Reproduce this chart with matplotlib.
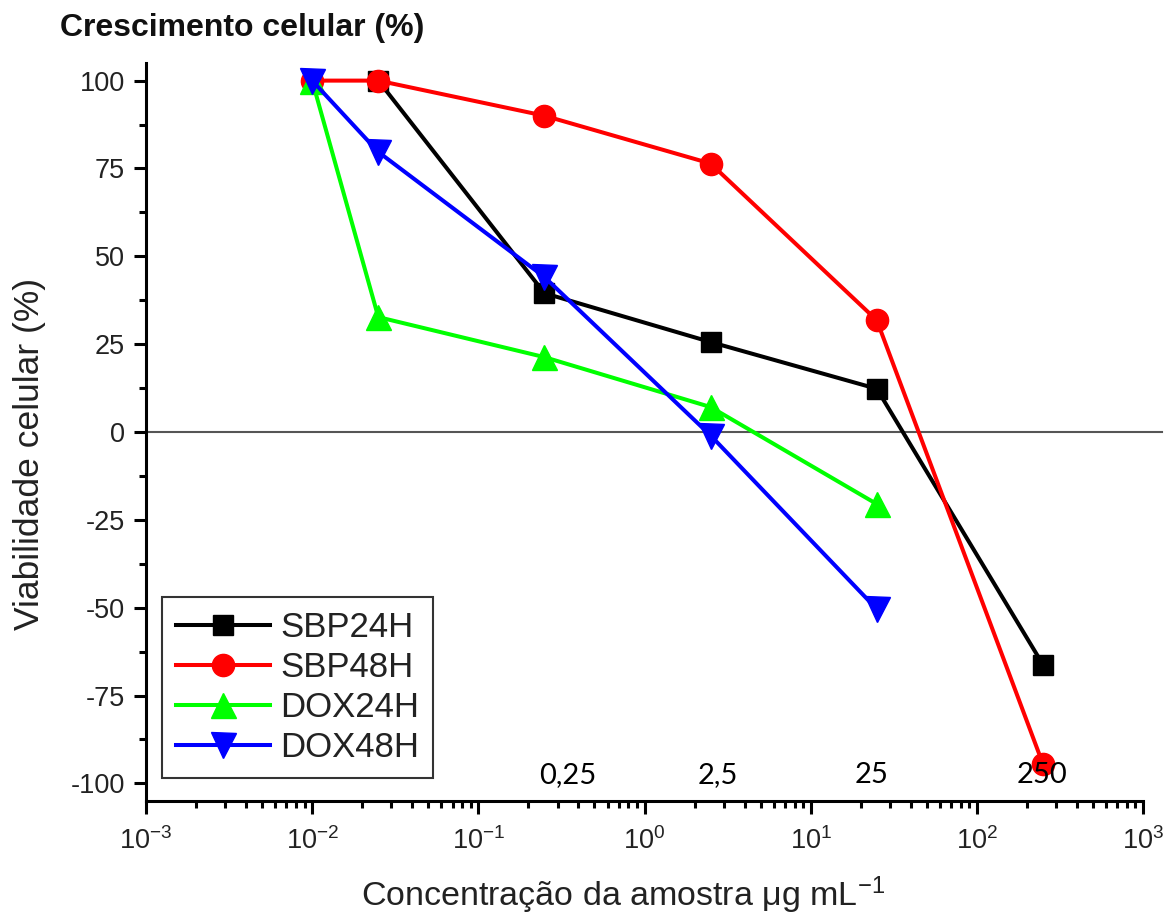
import matplotlib
matplotlib.use("Agg")
import matplotlib.pyplot as plt
from matplotlib.ticker import FixedLocator, LogLocator, MultipleLocator, NullFormatter

plt.rcParams['font.family'] = ['Liberation Sans', 'DejaVu Sans']
plt.rcParams['mathtext.fontset'] = 'custom'
plt.rcParams['mathtext.rm'] = 'Liberation Sans'
plt.rcParams['mathtext.it'] = 'Liberation Sans'
plt.rcParams['mathtext.default'] = 'regular'
plt.rcParams['axes.unicode_minus'] = False

# concentration (ug/mL) and cell viability (%)
conc_sbp24 = [0.025, 0.25, 2.5, 25, 250]
sbp24h = [100, 39.5, 25.6, 12.3, -66.2]
conc_sbp48 = [0.01, 0.025, 0.25, 2.5, 25, 250]
sbp48h = [100, 100, 90, 76.4, 31.8, -94.5]
conc_dox = [0.01, 0.025, 0.25, 2.5, 25]
dox24h = [100, 32.7, 21.3, 7.1, -20.5]
dox48h = [100, 79.7, 44.1, -1.0, -50.4]

x_ticks = [1e-3, 1e-2, 1e-1, 1e0, 1e1, 1e2, 1e3]
conc_labels = ['0,25', '2,5', '25', '250']
conc_label_x = [0.346, 2.77, 23.3, 246]

fig = plt.figure(figsize=(11.68, 9.23), dpi=100)
ax = fig.add_axes([0.125, 0.1322, 0.8536, 0.7995])

lw = 2.9
ax.plot(conc_sbp24, sbp24h, '-s', color='black', lw=lw, ms=14, label='SBP24H')
ax.plot(conc_sbp48, sbp48h, '-o', color='red', lw=lw, ms=16, label='SBP48H')
ax.plot(conc_dox, dox24h, '-^', color='#00ff00', lw=lw, ms=18, label='DOX24H')
ax.plot(conc_dox, dox48h, '-v', color='blue', lw=lw, ms=18, label='DOX48H')

ax.axhline(0, xmin=0, xmax=1.019, color='#555555', lw=1.5, clip_on=False, zorder=1)

ax.set_xscale('log')
ax.set_xlim(1e-3, 1e3)
ax.set_ylim(-105, 105)

ax.xaxis.set_major_locator(FixedLocator(x_ticks))
ax.xaxis.set_minor_locator(LogLocator(base=10, subs=range(2, 10), numticks=20))
ax.xaxis.set_minor_formatter(NullFormatter())
ax.yaxis.set_major_locator(MultipleLocator(25))
ax.yaxis.set_minor_locator(MultipleLocator(12.5))

for s in ['top', 'right']:
    ax.spines[s].set_visible(False)
for s in ['left', 'bottom']:
    ax.spines[s].set_linewidth(2.2)

ax.tick_params(which='major', direction='out', length=9, width=2.2,
               labelsize=19.5, labelcolor='#222222', pad=6)
ax.tick_params(which='minor', direction='out', length=5, width=2.2)
ax.tick_params(axis='x', which='major', pad=10)

for lab, xv in zip(conc_labels, conc_label_x):
    ax.text(xv, -97.5, lab, ha='center', va='center', fontsize=21,
            family=['Lato', 'DejaVu Sans'], color='black')

ax.set_xlabel('Concentração da amostra μg mL$^{-1}$', fontsize=24.5, color='#222222')
ax.set_ylabel('Viabilidade celular (%)', fontsize=25.5, color='#222222')
ax.xaxis.set_label_coords(0.478, -0.1)
ax.yaxis.set_label_coords(-0.1, 0.47)

fig.text(60 / 1168, 1 - 28 / 923, 'Crescimento celular (%)', fontsize=23,
         fontweight='bold', ha='left', va='center', color='#111111')

leg = ax.legend(loc='lower left', bbox_to_anchor=(0.016, 0.031), borderaxespad=0,
                fontsize=25, fancybox=False, framealpha=1, edgecolor='#333333',
                handlelength=2.7, handletextpad=0.3, labelspacing=0.2,
                borderpad=0.4)
leg.get_frame().set_linewidth(1.5)
for t in leg.get_texts():
    t.set_color('#222222')

fig.savefig('out.png', dpi=100)
